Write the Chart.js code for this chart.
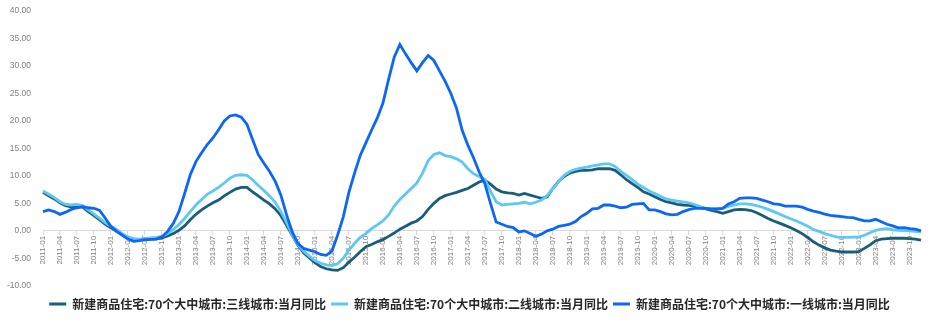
<!DOCTYPE html>
<html>
<head>
<meta charset="utf-8">
<script src="https://cdn.jsdelivr.net/npm/chart.js@4.4.0/dist/chart.umd.min.js"></script>
<style>
  html, body { margin: 0; padding: 0; background: #fff; }
  #wrap { width: 935px; height: 322px; }
</style>
</head>
<body>
<div id="wrap"><canvas id="priceChart"></canvas></div>
<script>
// 2011-01 .. 2023-12, monthly
const months = [];
for (let y = 2011; y <= 2023; y++) {
    for (let m = 1; m <= 12; m++) months.push(y + '-' + String(m).padStart(2, '0'));
}

const seriesNames = [
    '新建商品住宅:70个大中城市:三线城市:当月同比',
    '新建商品住宅:70个大中城市:二线城市:当月同比',
    '新建商品住宅:70个大中城市:一线城市:当月同比'
];

// 三线城市, one row per year
const tier3 = [
    7.0, 6.4, 5.8, 5.1, 4.6, 4.35, 4.4, 4.3, 3.5, 2.75, 2.0, 1.2,
    0.55, -0.1, -0.65, -1.3, -1.55, -1.6, -1.55, -1.5, -1.45, -1.3, -0.95, -0.5,
    0.1, 0.9, 2.0, 3.0, 3.8, 4.5, 5.1, 5.6, 6.35, 7.0, 7.6, 7.9,
    7.9, 7.1, 6.35, 5.6, 4.9, 4.0, 2.75, 1.0, -0.8, -2.6, -4.0, -4.9,
    -5.8, -6.5, -6.9, -7.1, -7.2, -6.7, -5.7, -4.8, -3.8, -2.9, -2.5, -2.0,
    -1.6, -1.0, -0.4, 0.3, 0.85, 1.4, 1.8, 2.6, 3.9, 5.0, 5.9, 6.4,
    6.7, 7.0, 7.35, 7.7, 8.3, 8.9, 9.2, 8.5, 7.6, 7.1, 6.9, 6.8,
    6.5, 6.8, 6.5, 6.2, 5.9, 6.2, 7.7, 9.0, 9.9, 10.5, 10.8, 11.0,
    11.0, 11.1, 11.3, 11.3, 11.3, 11.0, 10.2, 9.3, 8.6, 7.9, 7.1, 6.7,
    6.2, 5.7, 5.3, 5.1, 4.8, 4.7, 4.65, 4.5, 4.3, 4.0, 3.7, 3.5,
    3.2, 3.5, 3.8, 3.9, 3.85, 3.7, 3.3, 2.8, 2.25, 1.8, 1.4, 1.0,
    0.55, 0.05, -0.5, -1.2, -2.0, -2.6, -3.1, -3.5, -3.7, -3.85, -3.85, -3.85,
    -3.8, -3.2, -2.55, -1.8, -1.5, -1.4, -1.35, -1.35, -1.35, -1.4, -1.5, -1.7
];

// 二线城市
const tier2 = [
    7.25, 6.65, 6.05, 5.3, 4.8, 4.7, 4.8, 4.6, 3.8, 3.05, 2.25, 1.45,
    0.85, 0.25, -0.5, -1.1, -1.4, -1.5, -1.4, -1.3, -1.2, -1.0, -0.5, 0.25,
    1.15, 2.25, 3.5, 4.7, 5.7, 6.65, 7.25, 7.9, 8.7, 9.6, 10.1, 10.2,
    10.1, 9.3, 8.25, 7.35, 6.35, 5.2, 3.5, 1.5, -0.7, -2.5, -3.7, -4.6,
    -5.4, -5.9, -6.2, -6.3, -6.0, -5.0, -3.5, -2.3, -1.2, -0.5, 0.4, 1.1,
    1.8, 2.9, 4.5, 5.7, 6.7, 7.7, 8.7, 10.5, 12.8, 13.9, 14.2, 13.7,
    13.5, 13.1, 12.5, 11.3, 10.4, 9.9, 9.4, 7.2, 5.3, 4.7, 4.8, 4.9,
    5.0, 5.2, 4.9, 5.2, 5.6, 6.4, 7.7, 8.9, 10.1, 10.8, 11.2, 11.4,
    11.6, 11.8, 12.0, 12.2, 12.2, 11.7, 10.8, 10.1, 9.3, 8.5, 7.9, 7.25,
    6.8, 6.3, 5.8, 5.6, 5.4, 5.25, 5.1, 4.8, 4.4, 4.1, 4.0, 4.0,
    4.1, 4.45, 4.7, 4.9, 4.9, 4.8, 4.6, 4.3, 3.9, 3.5, 3.05, 2.6,
    2.2, 1.8, 1.35, 0.85, 0.25, -0.1, -0.5, -0.8, -1.1, -1.2, -1.2, -1.15,
    -1.15, -0.8, -0.35, 0.1, 0.3, 0.4, 0.2, 0.1, 0.05, 0.0, -0.1, -0.2
];

// 一线城市
const tier1 = [
    3.5, 3.8, 3.5, 3.0, 3.4, 3.9, 4.2, 4.4, 4.2, 4.1, 3.7, 2.3,
    0.8, -0.1, -0.8, -1.5, -1.9, -1.8, -1.6, -1.55, -1.5, -1.1, -0.1, 1.35,
    3.5, 6.8, 10.2, 12.6, 14.2, 15.7, 16.9, 18.4, 20.0, 20.9, 21.1, 20.7,
    19.4, 16.6, 13.9, 12.3, 10.8, 9.0, 6.5, 2.9, -0.2, -2.3, -3.2, -3.5,
    -3.8, -4.3, -4.45, -3.7, -0.8, 2.5, 7.0, 10.5, 13.7, 16.0, 18.3, 20.5,
    23.2, 27.5, 31.6, 33.9, 32.2, 30.6, 29.1, 30.6, 31.9, 31.0, 29.1, 27.2,
    25.0, 22.3, 18.3, 15.6, 13.3, 10.7, 8.6, 5.0, 1.6, 1.2, 0.8, 0.6,
    -0.2, 0.0, -0.5, -1.0, -0.6, 0.0, 0.3, 0.8, 1.0, 1.2, 1.7, 2.6,
    3.2, 4.0, 4.1, 4.7, 4.7, 4.5, 4.2, 4.3, 4.8, 4.9, 5.0, 3.8,
    3.8, 3.5, 3.1, 2.9, 3.0, 3.5, 3.85, 4.1, 4.1, 4.1, 4.0, 4.0,
    4.1, 4.9, 5.3, 5.9, 6.0, 6.0, 5.9, 5.6, 5.3, 4.9, 4.8, 4.5,
    4.5, 4.5, 4.3, 3.9, 3.6, 3.35, 3.05, 2.8, 2.7, 2.6, 2.45, 2.4,
    2.1, 1.8, 1.8, 2.1, 1.65, 1.2, 0.9, 0.55, 0.6, 0.4, 0.3, 0.0
];

const colors = ['#1A5D7A', '#5CC8F3', '#0C67F6'];
const tickFont = { family: "'Liberation Sans', Arial, sans-serif", size: 8.5 };

function lineSet(label, data, color, order) {
    return {
        label: label,
        data: data,
        borderColor: color,
        backgroundColor: color,
        borderWidth: 2.8,
        pointRadius: 0,
        tension: 0,
        order: order
    };
}

// nudge the legend a little right of the canvas centre
const legendShift = {
    id: 'legendShift',
    afterLayout(chart) {
        if (!chart.legend) return;
        chart.legend.left += 9;
        chart.legend.right += 9;
    }
};

const ctx = document.getElementById('priceChart');
new Chart(ctx, {
    type: 'line',
    data: {
        labels: months,
        datasets: [
            lineSet(seriesNames[0], tier3, colors[0], 3),
            lineSet(seriesNames[1], tier2, colors[1], 2),
            lineSet(seriesNames[2], tier1, colors[2], 1)
        ]
    },
    plugins: [legendShift],
    options: {
        responsive: true,
        maintainAspectRatio: false,
        animation: false,
        layout: { padding: { left: 0, right: 14, top: 11, bottom: 2 } },
        plugins: {
            tooltip: { enabled: false },
            legend: {
                position: 'bottom',
                title: { display: true, text: ' ', padding: 0, font: { size: 6 } },
                labels: {
                    boxWidth: 17,
                    boxHeight: 3,
                    padding: 5,
                    color: '#262626',
                    font: { family: "'Noto Sans CJK SC', sans-serif", size: 12, weight: 'bold' },
                    sort: (a, b) => a.datasetIndex - b.datasetIndex,
                    generateLabels: chart => Chart.defaults.plugins.legend.labels.generateLabels(chart)
                        .map(item => Object.assign(item, { lineWidth: 0 }))
                }
            }
        },
        scales: {
            x: {
                position: { y: 0 },
                grid: {
                    display: true,
                    drawOnChartArea: false,
                    drawTicks: true,
                    tickLength: 4,
                    color: c => c.index % 3 === 0 ? '#d9d9d9' : 'rgba(0,0,0,0)'
                },
                border: { color: '#d9d9d9' },
                ticks: {
                    autoSkip: false,
                    minRotation: 90,
                    maxRotation: 90,
                    padding: 1,
                    color: '#808080',
                    font: { family: tickFont.family, size: 8 },
                    callback: (v, i) => i % 3 === 0 ? months[i] : ''
                },
                afterFit: s => { s.paddingTop = 0; s.paddingBottom = 0; }
            },
            y: {
                min: -10,
                max: 40,
                grid: { display: false, drawTicks: false },
                border: { display: false },
                ticks: {
                    stepSize: 5,
                    padding: 12,
                    color: '#808080',
                    font: tickFont,
                    callback: v => v.toFixed(2)
                },
                afterFit: s => { s.width = 43; s.paddingTop = 0; }
            }
        }
    }
});
</script>
</body>
</html>
